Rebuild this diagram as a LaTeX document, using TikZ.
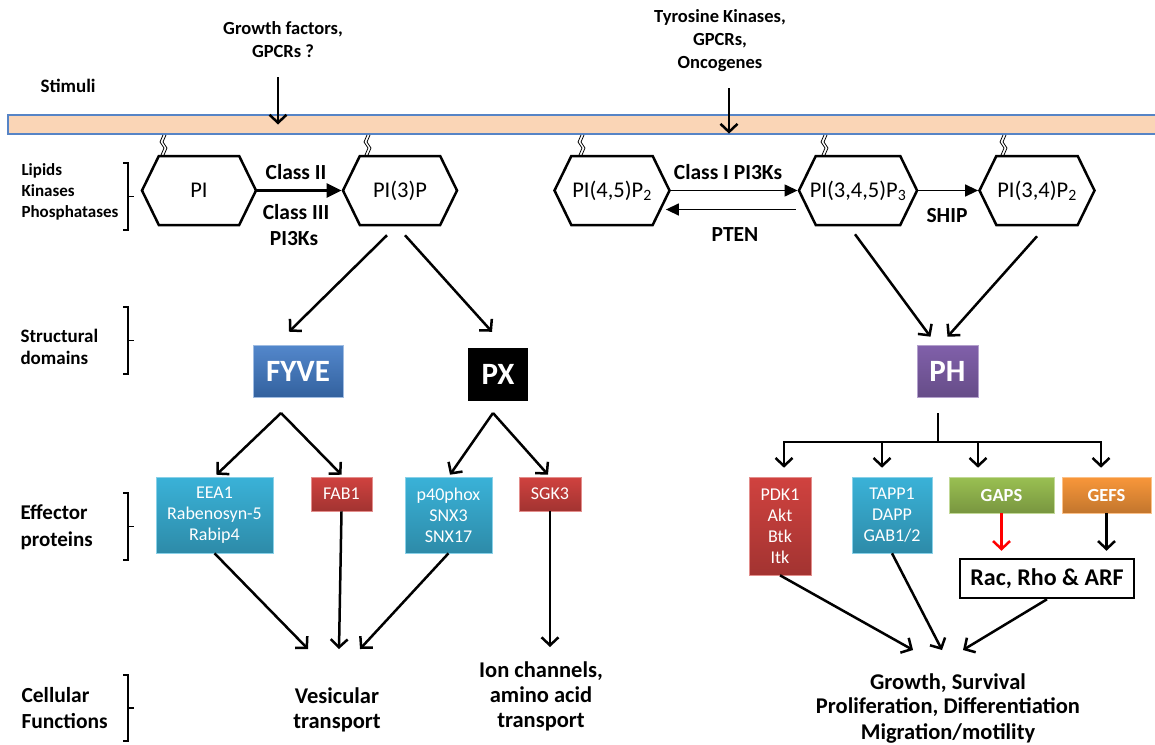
\documentclass[tikz,border=0pt]{standalone}
\usepackage{fontspec}
\setmainfont{Carlito}
\usepackage{tikz}
\usetikzlibrary{arrows.meta, shapes.symbols, calc}
\definecolor{membrane}{RGB}{250,213,182}
\definecolor{memline}{RGB}{86,132,198}
\definecolor{fyveblue}{RGB}{64,122,198}
\definecolor{aquabox}{RGB}{58,178,216}
\definecolor{redbox}{RGB}{208,66,63}
\definecolor{greenbox}{RGB}{154,192,82}
\definecolor{orangebox}{RGB}{249,151,58}
\definecolor{purplebox}{RGB}{128,96,170}

\begin{document}
\begin{tikzpicture}[x=1pt, y=-1pt,
	lipid/.style={draw, line width=2.5pt, shape=signal, signal to=east and west, signal pointer angle=128, minimum height=69pt, inner sep=0pt, font=\fontsize{22.5}{24}\selectfont},
	side/.style 2 args={anchor=west, align=left, font=\bfseries\fontsize{#1}{#2}\selectfont},
	stim/.style={align=center, font=\bfseries\fontsize{18.5}{23}\selectfont},
	enz/.style={font=\bfseries\fontsize{21.5}{24}\selectfont},
	domain/.style={minimum width=#1, minimum height=52pt, inner sep=0pt, text=white, font=\bfseries\fontsize{31}{32}\selectfont},
	effector/.style={rectangle, inner sep=0pt, top color=#1, bottom color=#1!78!black, draw=#1!60!white, line width=0.6pt, text=white, align=center, font=\fontsize{18}{21}\selectfont},
	func/.style={align=center, font=\bfseries\fontsize{22.5}{25}\selectfont},
	flow/.style={line width=2.5pt, -{Straight Barb[length=8pt, width=17pt]}},
	conv/.style={line width=2.5pt, -{Triangle[length=15pt, width=14pt]}},
	thinconv/.style={line width=1.4pt, -{Triangle[length=13pt, width=12pt]}},
	bracket/.style={line width=1.2pt},
	squig/.style={line width=0.8pt}]
\useasboundingbox (0,0) rectangle (1155,744);

% membrane and stimuli
\node[draw=memline, line width=1.2pt, fill=membrane, minimum width=1150pt, minimum height=19pt, inner sep=0pt] (mem) at (583,124.5) {};
\node[side={19}{20}] (stimuli) at (37,86) {Stimuli};
\node[stim] (gf) at (283,40) {Growth factors,\\GPCRs ?};
\node[stim] (tk) at (720,41) {Tyrosine Kinases,\\GPCRs,\\Oncogenes};
\coordinate (gfin) at (278,77);
\coordinate (tkin) at (729,88);
\draw[flow] (gfin) -- (gfin |- mem.center);
\draw[flow, shorten >=1pt] (tkin) -- (tkin |- mem.south);

% row labels and brackets
\node[side={17}{21}] (lipids) at (18,192) {Lipids\\Kinases\\Phosphatases};
\node[side={19}{22}] (struct) at (17,347) {Structural\\domains};
\node[side={21}{27}] (effect) at (17,527) {Effector\\proteins};
\node[side={21.5}{26}] (cellf) at (18,708) {Cellular\\Functions};
\foreach \t/\b in {163/230, 307/374, 493/560, 675/741} {
	\draw[bracket] (123,\t) -- (128,\t) -- (128,\b) -- (123,\b);
	\draw[bracket] (128,{(\t+\b)/2}) -- (134,{(\t+\b)/2});
}

% lipids
\node[lipid, minimum width=114pt] (pi) at (199,190.5) {PI};
\node[lipid, minimum width=114pt] (pi3p) at (400,190.5) {PI(3)P};
\node[lipid, minimum width=115pt] (pi45) at (612,190.5) {PI(4,5)P\textsubscript{2}};
\node[lipid, minimum width=117pt, inner xsep=-6pt] (pip3) at (858,190.5) {PI(3,4,5)P\textsubscript{3}};
\node[lipid, minimum width=115pt] (pi34) at (1037,190.5) {PI(3,4)P\textsubscript{2}};
\foreach \x in {162,366,580,823,1002}
	\foreach \d in {0,3}
		\draw[squig] (\x+\d+1,135) -- (\x+\d-2,142) -- (\x+\d+2,148) -- (\x+\d-1,155);

\draw[conv] (pi.east) -- (pi3p.west);
\node[enz] (c2) at (296,172) {Class II};
\node[enz] (c3) at (296,212) {Class III};
\node[enz] (pi3ks) at (294,239) {PI3Ks};
\draw[thinconv] (pi45.east) -- (pip3.west);
\draw[thinconv] ([xshift=-2pt,yshift=-19pt]pip3.west) -- ([xshift=-5pt,yshift=-19pt]pi45.east);
\draw[thinconv] (pip3.east) -- (pi34.west);
\node[enz] (c1) at (728,172) {Class I PI3Ks};
\node[enz] (pten) at (735,235) {PTEN};
\node[enz] (ship) at (947,216) {SHIP};

% structural domains
\node[domain=90pt, top color=fyveblue!90!white, bottom color=fyveblue!80!black, draw=fyveblue!50!white, line width=0.6pt] (fyve) at (298,371) {FYVE};
\node[domain=60pt, fill=black, minimum height=53pt] (px) at (498,374.5) {PX};
\node[domain=61pt, top color=purplebox, bottom color=purplebox!80!black, draw=purplebox!60!white, line width=0.6pt] (ph) at (947.5,371) {PH};
\draw[flow] ([xshift=-13pt,yshift=-9pt]pi3p.south) -- ([xshift=-9pt,yshift=13pt]fyve.north);
\draw[flow] ([xshift=5pt,yshift=-9pt]pi3p.south) -- ([xshift=-6pt,yshift=16pt]px.north);
\draw[flow] ([xshift=-3pt,yshift=-8pt]pip3.south) -- ([xshift=-17pt,yshift=8pt]ph.north);
\draw[flow] ([yshift=-10pt]pi34.south) -- ([yshift=8pt]ph.north);

% effector proteins
\node[effector=aquabox, minimum width=117pt, minimum height=76pt] (eea) at (214.5,515) {EEA1\\Rabenosyn-5\\Rabip4};
\node[effector=redbox, minimum width=61pt, minimum height=34pt] (fab) at (341.5,494) {FAB1};
\node[effector=aquabox, minimum width=87pt, minimum height=76pt] (pfox) at (448.5,515) {p40phox\\SNX3\\SNX17};
\node[effector=redbox, minimum width=62pt, minimum height=34pt] (sgk) at (550,494) {SGK3};
\node[effector=redbox, minimum width=62pt, minimum height=98pt] (pdk) at (780,526) {PDK1\\Akt\\Btk\\Itk};
\node[effector=aquabox, minimum width=80pt, minimum height=76pt] (tapp) at (892,515) {TAPP1\\DAPP\\GAB1/2};
\node[effector=greenbox, minimum width=105pt, minimum height=36pt, font=\bfseries\fontsize{18.5}{20}\selectfont] (gaps) at (1001.5,495) {GAPS};
\node[effector=orangebox, minimum width=89pt, minimum height=36pt, font=\bfseries\fontsize{18.5}{20}\selectfont] (gefs) at (1106.5,495) {GEFS};
\node[draw, line width=2.5pt, minimum width=174pt, minimum height=39pt, inner sep=0pt, font=\bfseries\fontsize{24}{26}\selectfont] (rac) at (1047,578.5) {Rac, Rho \& ARF};

\coordinate (fyvefork) at (281,413);
\coordinate (pxfork) at (493,413);
\draw[flow] (fyvefork) -- ([xshift=2pt,yshift=2pt]eea.north);
\draw[flow] (fyvefork) -- ([yshift=2pt]fab.north);
\draw[flow] (pxfork) -- ([xshift=1.5pt,yshift=2pt]pfox.north);
\draw[flow] (pxfork) -- ([xshift=-2pt,yshift=2pt]sgk.north);

\coordinate (phfork) at (938,442);
\draw[line width=2.5pt] ([xshift=-9.5pt,yshift=-16pt]ph.south) -- (phfork);
\draw[line width=2.5pt, line cap=rect] ($(pdk.north |- phfork)+(4,0)$) -- ($(gefs.north |- phfork)+(-5.5,0)$);
\foreach \n/\s in {pdk/4, tapp/-10, gaps/-23.5, gefs/-5.5}
	\draw[flow] ($(\n.north |- phfork)+(\s,0)$) -- ($(\n.north)+(\s,-9)$);
\draw[flow, red, shorten >=7pt] (gaps.south) -- (gaps.south |- rac.north);
\draw[flow, shorten >=7pt] (gefs.south) -- (gefs.south |- rac.north);

% cellular functions
\node[func] (vesic) at (337,710) {Vesicular\\transport};
\node[func] (ion) at (541,696) {Ion channels,\\amino acid\\transport};
\node[func] (growth) at (948,708) {Growth, Survival\\Proliferation, Differentiation\\Migration/motility};
\coordinate (vesin) at (339,649);
\coordinate (ionin) at (550,647);
\coordinate (growin) at (942,650);
\draw[flow] (eea.south) -- ([xshift=-31pt]vesin);
\draw[flow] (fab.south) -- (vesin);
\draw[flow] (pfox.south) -- ([xshift=21pt]vesin);
\draw[flow] (sgk.south) -- (ionin);
\draw[flow] (pdk.south) -- ([xshift=-29pt]growin);
\draw[flow] (tapp.south) -- (growin);
\draw[flow] (rac.south) -- ([xshift=21pt]growin);
\end{tikzpicture}
\end{document}
